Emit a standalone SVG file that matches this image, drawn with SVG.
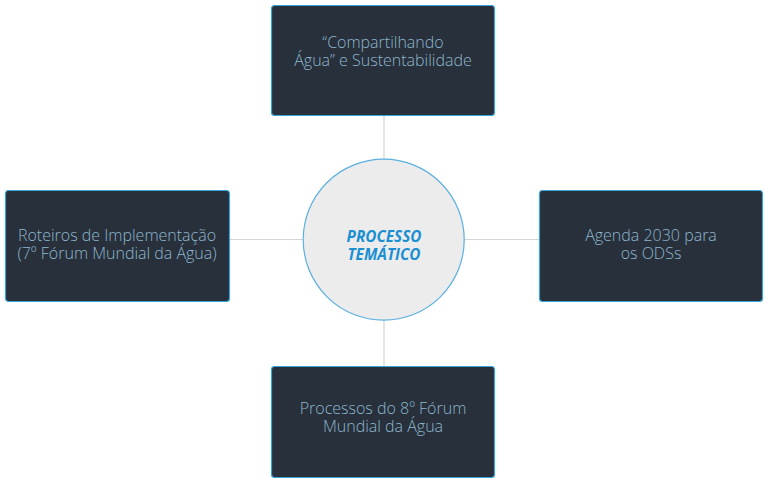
<svg xmlns="http://www.w3.org/2000/svg" width="768" height="483" viewBox="0 0 768 483">
<style>
.box{fill:#27303b;stroke:#3aa3d8;stroke-width:1.2}
.lbl{font-family:"Open Sans","Noto Sans",sans-serif;font-size:16px;font-weight:300;fill:#8fb6cd;text-anchor:middle}
.ctr{font-family:"Open Sans","Noto Sans",sans-serif;font-size:15.3px;font-weight:bold;font-style:italic;fill:#1a90d2;text-anchor:middle}
.con{stroke:#d4d4d4;stroke-width:1.2;fill:none}
</style>
<rect width="768" height="483" fill="#ffffff"/>
<g id="connectors">
<line class="con" x1="384" y1="115" x2="384" y2="160"/>
<line class="con" x1="229" y1="239.5" x2="303" y2="239.5"/>
<line class="con" x1="464" y1="239.5" x2="539" y2="239.5"/>
<line class="con" x1="384" y1="320" x2="384" y2="367"/>
</g>
<g id="center">
<circle cx="383.7" cy="239.7" r="80.5" fill="#ececec" stroke="#5ab0e0" stroke-width="1.2"/>
<text class="ctr"><tspan x="384" y="242">PROCESSO</tspan><tspan x="384" y="260">TEMÁTICO</tspan></text>
</g>
<g id="top">
<rect class="box" x="271.5" y="5.5" width="223" height="110" rx="3"/>
<text class="lbl"><tspan x="383" y="48">“Compartilhando</tspan><tspan x="383" y="66">Água” e Sustentabilidade</tspan></text>
</g>
<g id="left">
<rect class="box" x="5.5" y="190.5" width="224" height="111" rx="3"/>
<text class="lbl"><tspan x="117" y="241">Roteiros de Implementação</tspan><tspan x="117" y="259">(7º Fórum Mundial da Água)</tspan></text>
</g>
<g id="right">
<rect class="box" x="539.5" y="190.5" width="223" height="111" rx="3"/>
<text class="lbl"><tspan x="651" y="241">Agenda 2030 para</tspan><tspan x="651" y="259">os ODSs</tspan></text>
</g>
<g id="bottom">
<rect class="box" x="271.5" y="366.5" width="223" height="111" rx="3"/>
<text class="lbl"><tspan x="383" y="414">Processos do 8º Fórum</tspan><tspan x="383" y="432">Mundial da Água</tspan></text>
</g>
</svg>
